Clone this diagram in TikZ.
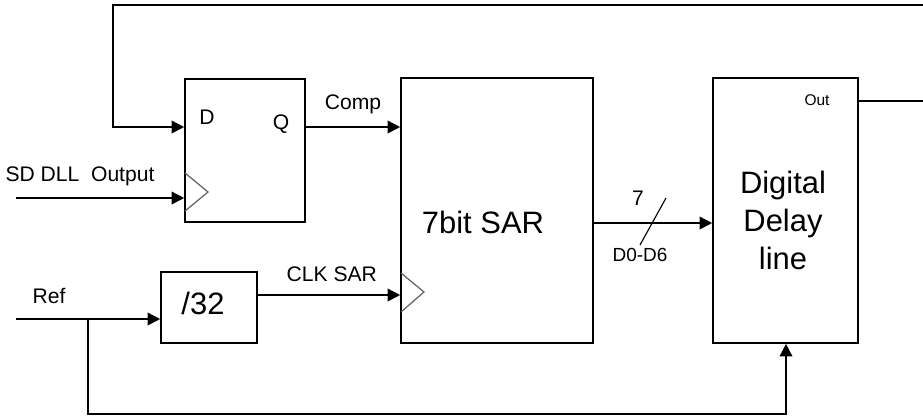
\documentclass[tikz,border=0pt]{standalone}
\usepackage{fontspec}
\setmainfont{Liberation Sans}
\usetikzlibrary{arrows.meta, calc}

\tikzset{
  block/.style={draw, line width=1.1pt, inner sep=0pt},
  arr/.style={line width=1.1pt, -{Triangle[length=9pt,width=9pt]}},
  wire/.style={line width=1.1pt},
  clk/.style={draw=gray!80!black, line width=0.9pt},
  lbl/.style={font=\fontsize{15}{18}\selectfont, inner sep=0pt},
  big/.style={font=\fontsize{22}{27}\selectfont, align=center, inner sep=0pt}
}

\begin{document}
\begin{tikzpicture}[x=0.025cm, y=-0.025cm]
        \useasboundingbox (0,0) rectangle (923,416);

        % Blocks
        \node[block, minimum width=3cm, minimum height=3.575cm] (ff) at (245,150.5) {};
        \node[block, minimum width=4.8cm, minimum height=6.625cm] (sar) at (497,210.5) {};
        \node[block, minimum width=3.625cm, minimum height=6.625cm] (ddl) at (785.5,210.5) {};
        \node[block, minimum width=2.4cm, minimum height=1.775cm] (div) at (209,307.5) {};

        % Texts in blocks
        \node[lbl] (dlab) at (207,117) {D};
        \node[lbl] (qlab) at (281,124) {Q};
        \node[big] (sarlab) at (483,222) {7bit SAR};
        \node[big] (ddllab) at (783,220) {Digital\\Delay\\line};
        \node[big] (divlab) at (203,303) {/32};
        \node[font=\fontsize{11}{13}\selectfont, inner sep=0pt] (outlab) at (817,100) {Out};

        % Clock inputs
        \draw[clk] (185,173) -- (208,192) -- (185,211);
        \draw[clk] (401,273) -- (424,292) -- (401,312);

        % Helper coordinates
        \coordinate (sd) at (16,198);
        \coordinate (ref) at (16,319);
        \coordinate (split) at (88,319);
        \coordinate (dq) at (0,127);
        \coordinate (clkin) at (0,295);
        \coordinate (bus) at (0,223);
        \coordinate (out) at ($(ddl.north east)+(0,24)$);
        \coordinate (fbx) at (113,5);
        \coordinate (ctl) at (786,414);

        % Inputs
        \node[lbl] (sdlab) at (80,176) {SD DLL\ \ Output};
        \draw[arr] (sd) -- (sd -| ff.west);
        \node[lbl] (reflab) at (49,296) {Ref};
        \draw[arr] (ref) -- (ref -| div.west);
        \draw[arr] (split) |- (ctl) -- (ddl.south -| ctl);

        % Q to SAR
        \draw[arr] (ff.east |- dq) -- node[lbl, above=9pt] (comp) {Comp} (sar.west |- dq);

        % Divider to SAR clock
        \draw[arr] (div.east |- clkin) -- node[lbl, above=9pt, xshift=2pt] (clksar) {CLK SAR} (sar.west |- clkin);

        % SAR to delay line (bus)
        \draw[arr] (sar.east |- bus) -- (ddl.west |- bus);
        \draw[wire, line width=0.8pt] (640,245) -- (666,198);
        \node[lbl] (seven) at (638,198) {7};
        \node[lbl, font=\fontsize{13.5}{16}\selectfont] (dbus) at (640,255) {D0-D6};

        % Feedback from Out to D
        \draw[arr] (out) -- ++(90,0) |- (fbx) |- (ff.west |- dq);
    \end{tikzpicture}
\end{document}
